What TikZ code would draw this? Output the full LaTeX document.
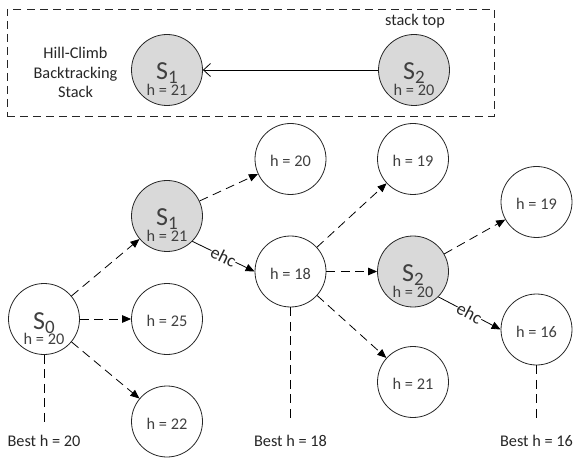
\documentclass[tikz,border=0pt]{standalone}
\usepackage{fontspec}
\setmainfont{Carlito}
\usetikzlibrary{arrows.meta,calc}
\definecolor{txt}{HTML}{262626}
\definecolor{intxt}{HTML}{404040}
\definecolor{stackfill}{HTML}{D9D9D9}
% state name with a lowered serif index
\newcommand{\statename}[1]{S\raisebox{-4bp}{\fontsize{19bp}{19bp}\selectfont\rmfamily #1}}

\begin{document}
\begin{tikzpicture}[x=1bp,y=-1bp,
  state/.style={circle, draw=black!85, line width=0.8bp, minimum size=71bp, inner sep=0pt, fill=white},
  visited/.style={state, fill=stackfill},
  sname/.style={anchor=base, inner sep=0pt, text=intxt, font=\fontsize{26bp}{26bp}\selectfont},
  hval/.style={anchor=base, inner sep=0pt, text=intxt, font=\fontsize{16.3bp}{18bp}\selectfont},
  plain/.style={text=txt, inner sep=0pt, font=\fontsize{16.3bp}{19.9bp}\selectfont},
  succ/.style={line width=0.8bp, dash pattern=on 9bp off 5.5bp, -{Triangle[length=9bp,width=7.5bp]}},
  ehcedge/.style={line width=0.8bp, -{Triangle[length=9bp,width=7.5bp]}},
  ehclbl/.style={sloped, fill=white, inner sep=0.3bp, text=txt, font=\fontsize{18bp}{18bp}\selectfont},
  bestline/.style={line width=0.8bp, dash pattern=on 9bp off 5.5bp},
]
\useasboundingbox (0,0) rectangle (576,458);

% ---- backtracking stack ----
\node[draw=black!85, line width=0.8bp, dash pattern=on 8bp off 5bp,
      minimum width=487bp, minimum height=106.5bp, inner sep=0pt] (stackbox) at (250.5,62.75) {};
\node[plain, align=center] (stacklbl) at (75.5,72.5) {Hill-Climb\\Backtracking\\Stack};
\node[visited] (st1) at (167,70) {};
\node[sname] (st1n) at ($(st1)+(0,10)$) {\statename{1}};
\node[hval] (st1h) at ($(st1)+(0,25.5)$) {h = 21};
\node[visited] (st2) at (414,70) {};
\node[sname] (st2n) at ($(st2)+(0,10)$) {\statename{2}};
\node[hval] (st2h) at ($(st2)+(0,25.5)$) {h = 20};
\node[plain, anchor=base] (stacktop) at (415,26) {stack top};
\draw[line width=0.8bp, -{Straight Barb[length=7bp,width=13bp]}] (st2) -- (st1);

% ---- search tree ----
\node[state] (s0) at (44,319) {};
\node[sname] (s0n) at ($(s0)+(0,10)$) {\statename{0}};
\node[hval] (s0h) at ($(s0)+(0,25.5)$) {h = 20};

\node[visited] (s1) at (167,216) {};
\node[sname] (s1n) at ($(s1)+(0,10)$) {\statename{1}};
\node[hval] (s1h) at ($(s1)+(0,25.5)$) {h = 21};

\node[visited] (s2) at (413,271.5) {};
\node[sname] (s2n) at ($(s2)+(0,10)$) {\statename{2}};
\node[hval] (s2h) at ($(s2)+(0,25.5)$) {h = 20};

\node[state] (h25) at (167,319) {};
\node[hval] (h25t) at ($(h25)+(0,7.7)$) {h = 25};
\node[state] (h22) at (167,421.5) {};
\node[hval] (h22t) at ($(h22)+(0,7.7)$) {h = 22};
\node[state] (h20) at (290.5,159) {};
\node[hval] (h20t) at ($(h20)+(0,7.7)$) {h = 20};
\node[state] (h18) at (290.5,271.5) {};
\node[hval] (h18t) at ($(h18)+(0,7.7)$) {h = 18};
\node[state] (h19a) at (413,159) {};
\node[hval] (h19at) at ($(h19a)+(0,7.7)$) {h = 19};
\node[state] (h21) at (413,382) {};
\node[hval] (h21t) at ($(h21)+(0,7.7)$) {h = 21};
\node[state] (h19b) at (536.5,202) {};
\node[hval] (h19bt) at ($(h19b)+(0,7.7)$) {h = 19};
\node[state] (h16) at (536.5,329.5) {};
\node[hval] (h16t) at ($(h16)+(0,7.7)$) {h = 16};

\draw[succ] (s0) -- (s1);
\draw[succ] (s0) -- (h25);
\draw[succ] (s0) -- (h22);
\draw[succ] (s1) -- (h20);
\draw[ehcedge] (s1.south east) -- node[ehclbl] (e1) {ehc} (h18.west);
\draw[succ] (h18) -- (h19a);
\draw[succ] (h18) -- (s2);
\draw[succ] (h18) -- (h21);
\draw[succ] (s2) -- (h19b);
\draw[ehcedge] (s2.south east) -- node[ehclbl] (e2) {ehc} (h16.west);

% ---- best values reached ----
\node[plain, anchor=base] (best0) at (44,446) {Best h = 20};
\node[plain, anchor=base] (best1) at (290.5,446) {Best h = 18};
\node[plain, anchor=base] (best2) at (536.5,446) {Best h = 16};
\draw[bestline, shorten >=10bp] (s0.south) -- (best0.north);
\draw[bestline, shorten >=15bp] (h18.south) -- (best1.north);
\draw[bestline, shorten >=15bp] (h16.south) -- (best2.north);
\end{tikzpicture}
\end{document}
